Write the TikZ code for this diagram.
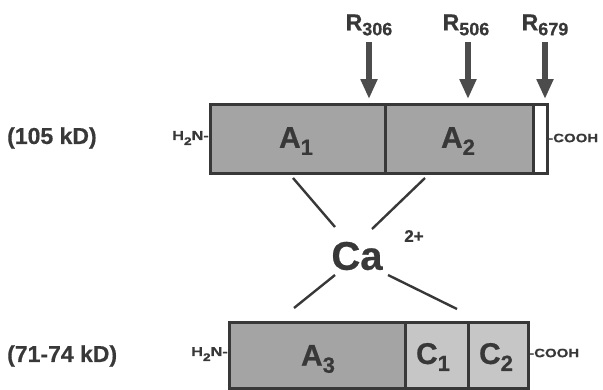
\documentclass[tikz,border=0pt]{standalone}
\usepackage{fontspec}
\setmainfont[BoldFeatures={FakeBold=0.6}]{Liberation Sans}
\newfontfamily\widefont[FakeStretch=1.25, FakeBold=0.6]{Liberation Sans Bold}
\usetikzlibrary{arrows.meta}
\definecolor{ink}{HTML}{383838}
\definecolor{boxA}{HTML}{A4A4A4}
\definecolor{boxC}{HTML}{C6C6C6}
\newcommand{\fs}[1]{\fontsize{#1}{#1}\selectfont}
\tikzset{
  seg/.style={draw=ink, line width=3pt},
  lbl/.style={text=ink, font=\bfseries, inner sep=0pt},
  term/.style={text=ink, font=\widefont, inner sep=0pt},
  cut/.style={draw=ink!90, line width=6.5pt, -{Triangle[length=20pt,width=16pt]}},
  bond/.style={draw=ink, line width=2.4pt},
}
\begin{document}
\begin{tikzpicture}[x=1pt,y=-1pt]
\useasboundingbox (0,0) rectangle (603,389);
% top bar
\path[fill=boxA] (210,104) rectangle (533,173);
\path[fill=white] (533,104) rectangle (547,173);
\draw[seg] (210,104) rectangle (385,173);
\draw[seg] (385,104) rectangle (533,173);
\draw[seg] (533,104) rectangle (547,173);
\node[lbl] (a1) at (296,141) {\fs{30}A\raisebox{-7pt}{\fs{22}1}};
\node[lbl] (a2) at (458,141) {\fs{30}A\raisebox{-7pt}{\fs{22}2}};
% bottom bar
\path[fill=boxA] (229,322) rectangle (405,388);
\path[fill=boxC] (405,322) rectangle (528,388);
\draw[seg] (229,322) rectangle (405,388);
\draw[seg] (405,322) rectangle (468,388);
\draw[seg] (468,322) rectangle (528,388);
\node[lbl] (a3) at (318,359) {\fs{30}A\raisebox{-7pt}{\fs{22}3}};
\node[lbl] (c1) at (433,357) {\fs{30}C\raisebox{-7pt}{\fs{22}1}};
\node[lbl] (c2) at (496,357) {\fs{30}C\raisebox{-7pt}{\fs{22}2}};
% termini
\node[term, anchor=east] (n1) at (209,138) {\fs{13}H\raisebox{-5pt}{\fs{11}2}N-};
\node[term, anchor=west] (c1t) at (548,138) {\fs{12}-COOH};
\node[term, anchor=east] (n2) at (228,354) {\fs{13}H\raisebox{-5pt}{\fs{11}2}N-};
\node[term, anchor=west] (c2t) at (529,353) {\fs{12}-COOH};
% masses
\node[lbl, anchor=west] (m1) at (7,138) {\fs{23}(105 kD)};
\node[lbl, anchor=west] (m2) at (7,356) {\fs{23}(71-74 kD)};
% cleavage sites
\node[lbl] (r1) at (369,25) {\fs{23}R\raisebox{-5pt}{\fs{18}306}};
\node[lbl] (r2) at (466,25) {\fs{23}R\raisebox{-5pt}{\fs{18}506}};
\node[lbl] (r3) at (545,25) {\fs{23}R\raisebox{-5pt}{\fs{18}679}};
\coordinate (t1) at (369,42); \coordinate (h1) at (369,99);
\coordinate (t2) at (468,42); \coordinate (h2) at (468,99);
\coordinate (t3) at (545,42); \coordinate (h3) at (545,99);
\draw[cut] (t1) -- (h1);
\draw[cut] (t2) -- (h2);
\draw[cut] (t3) -- (h3);
% calcium
\node[lbl] (ca) at (357,256) {\fs{40}Ca};
\node[lbl] (ch) at (414,236) {\fs{17}2+};
\coordinate (p1) at (293,178); \coordinate (q1) at (335,227);
\coordinate (p2) at (425,178); \coordinate (q2) at (372,229);
\coordinate (p3) at (335,275); \coordinate (q3) at (294,308);
\coordinate (p4) at (388,275); \coordinate (q4) at (457,309);
\draw[bond] (p1) -- (q1);
\draw[bond] (p2) -- (q2);
\draw[bond] (p3) -- (q3);
\draw[bond] (p4) -- (q4);
\end{tikzpicture}
\end{document}
